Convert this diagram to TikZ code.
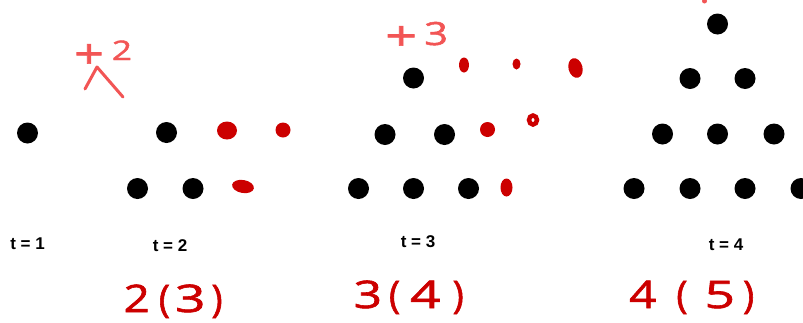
\documentclass[tikz,border=0pt]{standalone}
\usepackage{fontspec}
\setmainfont{Liberation Sans}
\newfontfamily\hand[FakeBold=1.5]{Open Sans}
\definecolor{inkred}{HTML}{CC0000}
\definecolor{lightred}{HTML}{F25555}
\newcommand{\wide}[2]{\scalebox{#1}[1]{#2}}
\begin{document}
\begin{tikzpicture}[x=1pt,y=-1pt,
  dot/.style={circle,fill=black,minimum size=21pt,inner sep=0pt},
  blob/.style={fill=inkred,draw=none},
  tlabel/.style={font=\bfseries\fontsize{17}{17}\selectfont,inner sep=0pt},
  handbig/.style={font=\hand\fontsize{38}{38}\selectfont,text=inkred,inner sep=0pt},
  handsmall/.style={font=\hand\fontsize{32}{32}\selectfont,text=lightred,inner sep=0pt}]
\path[use as bounding box] (0,0) rectangle (803,322);
\clip (0,0) rectangle (803,322);
% t = 1
\node[dot] (a1) at (27.5,133) {};
% t = 2
\node[dot] (b1) at (166.5,132.5) {};
\node[dot] (b2) at (137.5,188.5) {};
\node[dot] (b3) at (193,188.5) {};
% t = 3
\node[dot] (c1) at (413.5,78) {};
\node[dot] (c2) at (385,134.5) {};
\node[dot] (c3) at (444.5,134.5) {};
\node[dot] (c4) at (358.5,188.5) {};
\node[dot] (c5) at (413.5,188.5) {};
\node[dot] (c6) at (468.5,188.5) {};
% t = 4
\node[dot] (d1) at (717.5,24) {};
\node[dot] (d2) at (690,78.5) {};
\node[dot] (d3) at (745,78.5) {};
\node[dot] (d4) at (662.5,134) {};
\node[dot] (d5) at (717.5,134) {};
\node[dot] (d6) at (774,134) {};
\node[dot] (d7) at (634,188.5) {};
\node[dot] (d8) at (690,188.5) {};
\node[dot] (d9) at (745,188.5) {};
\node[dot] (d10) at (801,188.5) {};
% red blobs
\fill[blob] (227,130.5) ellipse [x radius=10, y radius=9];
\fill[blob] (283,130) ellipse [x radius=7.5, y radius=7.5];
\fill[blob,rotate around={-10:(243,186.5)}] (243,186.5) ellipse [x radius=11, y radius=6.5];
\fill[blob] (464,65) ellipse [x radius=5, y radius=7.5];
\fill[blob] (516.5,64) ellipse [x radius=4, y radius=5.5];
\fill[blob,rotate around={15:(575.5,68)}] (575.5,68) ellipse [x radius=7, y radius=10];
\fill[blob] (487.5,129.5) ellipse [x radius=7.5, y radius=7.5];
\draw[inkred,line width=4.5pt] (533,120) ellipse [x radius=4, y radius=4.5];
\fill[blob] (506.5,187.5) ellipse [x radius=6, y radius=9];
\fill[lightred] (704.5,1) ellipse [x radius=2.5, y radius=2.5];
% labels
\node[tlabel] (l1) at (27.5,243.5) {t = 1};
\node[tlabel] (l2) at (170,245.5) {t = 2};
\node[tlabel] (l3) at (418,242) {t = 3};
\node[tlabel] (l4) at (726,244.5) {t = 4};
% handwriting
\node[handsmall,anchor=base west] (p2) at (74,68) {{\fontsize{40}{40}\selectfont\wide{1.3}{+}}\kern8pt\raisebox{8pt}{\fontsize{27}{27}\selectfont\wide{1.3}{2}}};
\draw[lightred,line width=3pt,line cap=round,line join=round] (85,89) -- (97,67) -- (123,97);
\node[handsmall,anchor=base west] (p3) at (385,50) {{\fontsize{40}{40}\selectfont\wide{1.4}{+}}\kern7pt\raisebox{5pt}{\wide{1.3}{3}}};
\node[handbig,anchor=base west] (h2) at (123.5,312) {\wide{1.2}{2}\kern9pt(\kern5pt\wide{1.4}{3}\kern6pt)};
\node[handbig,anchor=base west] (h3) at (353.5,308) {\wide{1.3}{3}\kern7pt(\kern10pt\wide{1.4}{4}\kern12pt)};
\node[handbig,anchor=base west] (h4) at (629,308) {\wide{1.25}{4}\kern20pt(\kern17pt\wide{1.4}{5}\kern8pt)};
\end{tikzpicture}
\end{document}
